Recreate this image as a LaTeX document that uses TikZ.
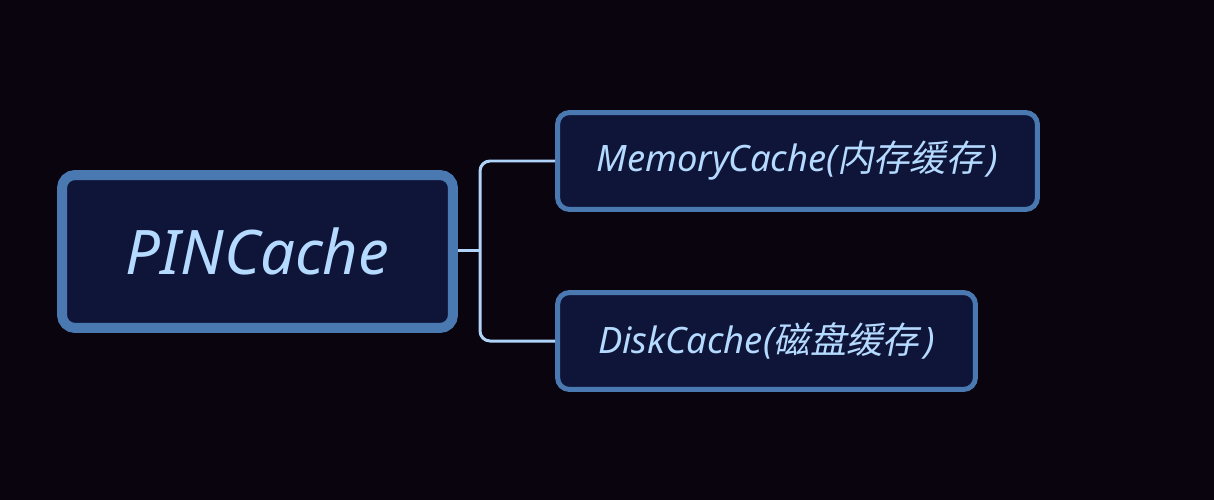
\documentclass[tikz,border=0pt]{standalone}
\usepackage{fontspec}
\setmainfont{Noto Sans}
\newfontfamily\cjk{Noto Sans CJK SC}[AutoFakeSlant=0.2]
\definecolor{bgdark}{HTML}{0A040F}
\definecolor{boxfill}{HTML}{0F1538}
\definecolor{boxline}{HTML}{4A78B0}
\definecolor{txtblue}{HTML}{B5DAFF}
\definecolor{linkblue}{HTML}{B0D4F8}

\begin{document}
\begin{tikzpicture}[x=0.02cm,y=-0.02cm,
  rootbox/.style={draw=boxline,fill=boxfill,line width=0.2cm,rounded corners=0.26cm,
    minimum width=7.82cm,minimum height=3.06cm,text=txtblue,
    font=\fontsize{35}{40}\selectfont\itshape},
  childbox/.style={draw=boxline,fill=boxfill,line width=0.1cm,rounded corners=0.24cm,
    minimum height=1.94cm,text=txtblue,font=\fontsize{20.7}{24}\selectfont\itshape},
  conn/.style={draw=linkblue,line width=0.06cm}]

% background
\fill[bgdark] (0,0) rectangle (1214,500);

% main node
\node[rootbox] (root) at (257.5,251.5) {PINCache};

% children
\node[childbox,minimum width=9.6cm] (mem) at (797.5,161) {MemoryCache({\cjk 内存缓存}\kern3pt)};
\node[childbox,minimum width=8.36cm] (disk) at (766.5,341) {DiskCache({\cjk 磁盘缓存}\kern3pt)};

% connectors
\coordinate (jn) at (480,250);
\draw[conn] (root.east |- jn) -- (jn);
\draw[conn,rounded corners=0.2cm] (mem.west) -| (jn) |- (disk.west);

\end{tikzpicture}
\end{document}
